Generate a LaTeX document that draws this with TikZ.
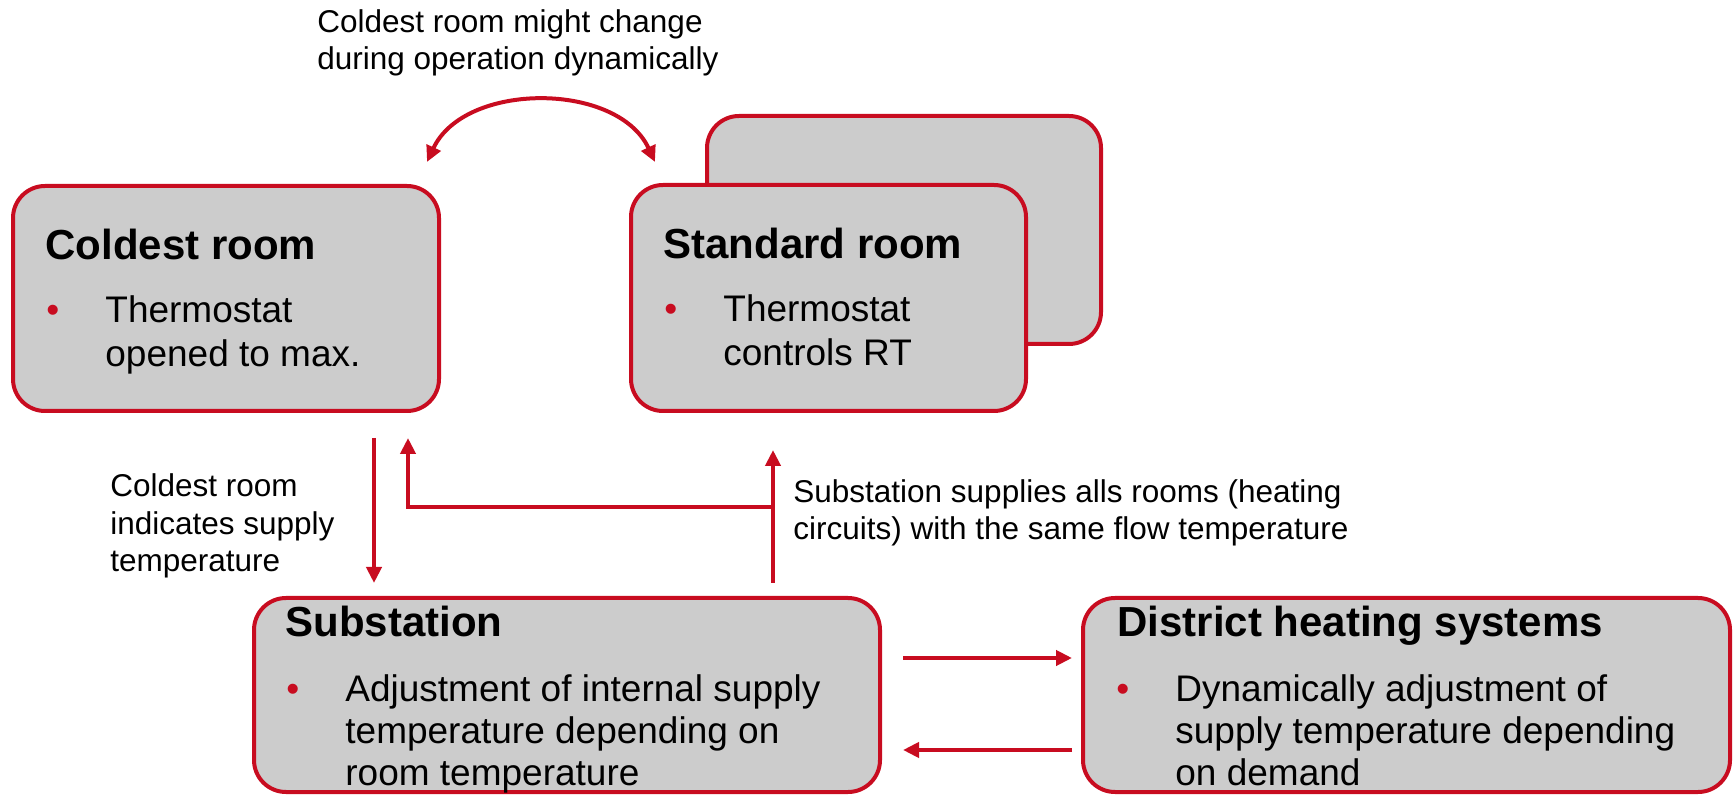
\documentclass[tikz,border=0pt]{standalone}
\usepackage{fontspec}
\setmainfont{Liberation Sans}
\usepackage{tikz}
\usetikzlibrary{arrows.meta,positioning}
\definecolor{dhred}{RGB}{200,12,32}
\definecolor{boxgray}{RGB}{204,204,204}
\tikzstyle{room}=[draw=dhred,fill=boxgray,line width=2pt,rounded corners=16pt,inner sep=0pt]
\tikzstyle{boxtitle}=[anchor=base west,inner sep=0pt,font=\fontsize{21pt}{25pt}\selectfont\bfseries]
\tikzstyle{item}=[anchor=base west,inner sep=0pt,align=left,font=\fontsize{18.5pt}{22pt}\selectfont]
\tikzstyle{dot}=[anchor=base west,inner sep=0pt,text=dhred,font=\fontsize{18.5pt}{22pt}\selectfont]
\tikzstyle{note}=[anchor=base west,inner sep=0pt,align=left,font=\fontsize{15.75pt}{18.5pt}\selectfont]
\tikzstyle{flow}=[->,draw=dhred,line width=2pt]

\begin{document}
\begin{tikzpicture}[x=0.5pt,y=-0.5pt,>={Triangle[length=8pt,width=7.5pt]}]
\useasboundingbox (0,0) rectangle (1733,795);

\node[room,minimum width=213pt,minimum height=112.5pt] (cold) at (226,298.5) {};
\node[boxtitle] (coldt) at (45,260) {Coldest room};
\node[dot] (coldd) at (46,323) {•};
\node[item] (coldi) at (105,367) {Thermostat\\opened to max.};

\node[room,minimum width=197pt,minimum height=114pt] (stdback) at (904,230) {};
\node[room,minimum width=197.5pt,minimum height=113pt] (std) at (828.5,298) {};
\node[boxtitle] (stdt) at (663,259) {Standard room};
\node[dot] (stdd) at (664,322) {•};
\node[item] (stdi) at (723,366) {Thermostat\\controls RT};

\node[room,minimum width=313pt,minimum height=97pt] (sub) at (567,695) {};
\node[boxtitle] (subt) at (285,637) {Substation};
\node[dot] (subd) at (286,701) {•};
\node[item,font=\fontsize{18.5pt}{21pt}\selectfont] (subi) at (345,785) {Adjustment of internal supply\\temperature depending on\\room temperature};

\node[room,minimum width=323.5pt,minimum height=97pt] (dhs) at (1406.5,695) {};
\node[boxtitle] (dhst) at (1117,637) {District heating systems};
\node[dot] (dhsd) at (1116,701) {•};
\node[item,font=\fontsize{18.5pt}{21pt}\selectfont] (dhsi) at (1175,785) {Dynamically adjustment of\\supply temperature depending\\on demand};

\node[note] (chg) at (317,70) {Coldest room might change\\during operation dynamically};
\node[note,font=\fontsize{15.75pt}{18.75pt}\selectfont] (ind) at (110,572) {Coldest room\\indicates supply\\temperature};
\node[note] (sup) at (793,540) {Substation supplies alls rooms (heating\\circuits) with the same flow temperature};

\draw[flow,<->] ([xshift=-7pt,yshift=11pt]cold.north east) to[bend left=65,looseness=1] ([xshift=13pt,yshift=10.5pt]std.north west);
\draw[flow,shorten <=12.5pt,shorten >=6.5pt] ([xshift=74pt]cold.south) -- ([xshift=-96.5pt]sub.north);
\draw[flow,shorten <=6.5pt,shorten >=18.5pt] ([xshift=103pt]sub.north) -- ([xshift=-27.75pt]std.south);
\coordinate (split) at ([xshift=103pt,yshift=44.5pt]sub.north);
\draw[flow,shorten >=12.5pt] (split) -| ([xshift=91pt]cold.south);
\draw[flow,shorten <=10.5pt,shorten >=4.5pt] ([yshift=18.5pt]sub.east) -- ([yshift=18.5pt]dhs.west);
\draw[flow,shorten <=4.5pt,shorten >=10.5pt] ([yshift=-27.5pt]dhs.west) -- ([yshift=-27.5pt]sub.east);
\end{tikzpicture}
\end{document}
